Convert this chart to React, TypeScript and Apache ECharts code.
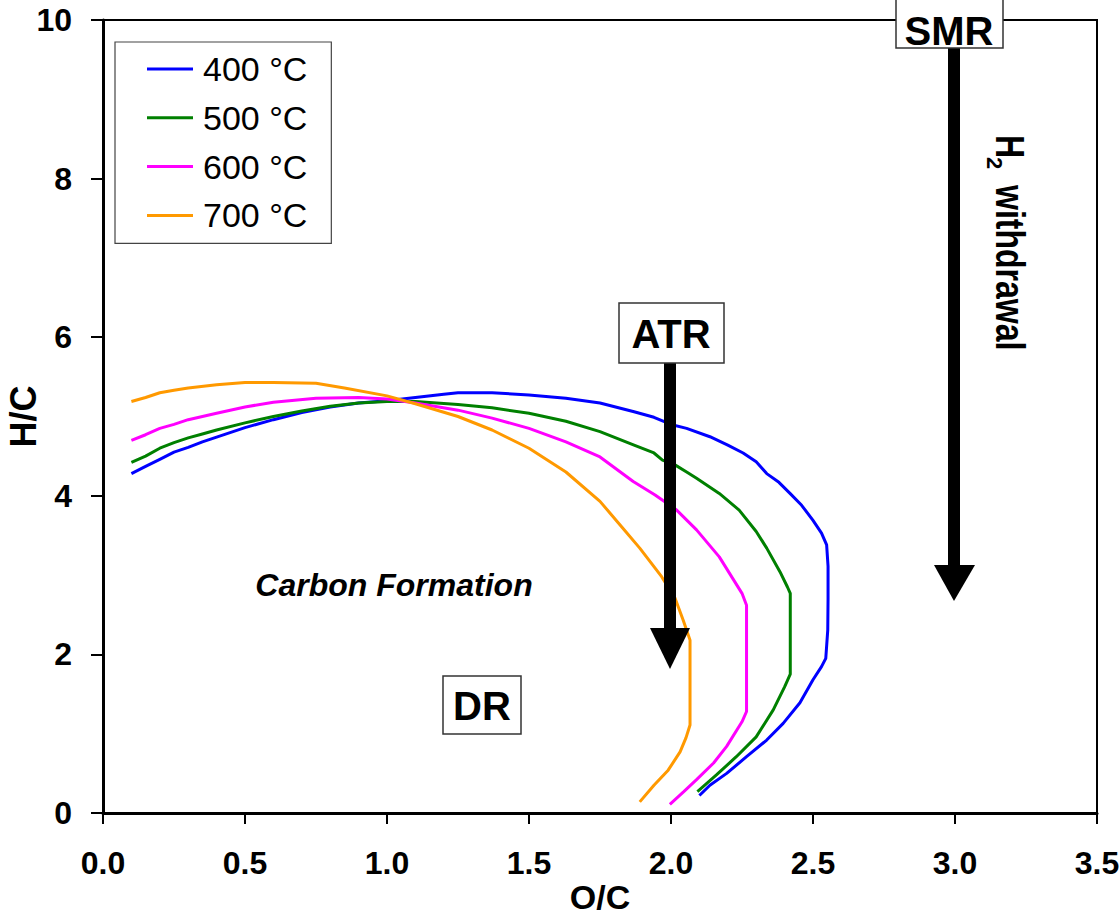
import React, { useEffect, useRef } from "react";
import * as echarts from "echarts";

const seriesNames = ["400 °C", "500 °C", "600 °C", "700 °C"];
const seriesColors = ["#0000FF", "#008000", "#FF00FF", "#FF9900"];

const data400: number[][] = [
  [0.1, 4.28], [0.15, 4.37], [0.2, 4.46], [0.25, 4.55], [0.3, 4.61], [0.35, 4.68], [0.4, 4.74],
  [0.5, 4.86], [0.6, 4.96], [0.7, 5.05], [0.8, 5.12], [0.9, 5.17], [1.0, 5.2], [1.1, 5.24],
  [1.2, 5.28], [1.25, 5.3], [1.37, 5.3], [1.5, 5.27], [1.63, 5.23], [1.75, 5.17], [1.87, 5.06],
  [1.94, 4.99], [2.0, 4.9], [2.055, 4.85], [2.137, 4.745], [2.2, 4.64], [2.254, 4.54], [2.3, 4.43],
  [2.337, 4.28], [2.38, 4.17], [2.419, 4.03], [2.46, 3.88], [2.5, 3.69], [2.53, 3.53], [2.548, 3.38],
  [2.553, 3.11], [2.553, 2.7], [2.552, 2.31], [2.545, 1.95], [2.53, 1.845], [2.5, 1.68], [2.454, 1.39],
  [2.395, 1.13], [2.337, 0.92], [2.266, 0.71], [2.196, 0.5], [2.137, 0.35], [2.1, 0.22],
];
const data500: number[][] = [
  [0.1, 4.42], [0.15, 4.5], [0.2, 4.6], [0.25, 4.67], [0.3, 4.73], [0.35, 4.78], [0.4, 4.83],
  [0.5, 4.92], [0.6, 5.0], [0.7, 5.07], [0.8, 5.13], [0.9, 5.17], [1.0, 5.19], [1.1, 5.19],
  [1.25, 5.15], [1.37, 5.11], [1.5, 5.04], [1.63, 4.94], [1.75, 4.81], [1.87, 4.64], [1.94, 4.54],
  [1.97, 4.45], [2.014, 4.39], [2.055, 4.3], [2.09, 4.22], [2.17, 4.03], [2.24, 3.82], [2.3, 3.55],
  [2.337, 3.34], [2.384, 3.04], [2.41, 2.85], [2.42, 2.77], [2.42, 2.2], [2.42, 1.75], [2.4, 1.59],
  [2.36, 1.3], [2.3, 0.96], [2.23, 0.71], [2.16, 0.48], [2.093, 0.27],
];
const data600: number[][] = [
  [0.1, 4.7], [0.15, 4.77], [0.2, 4.85], [0.25, 4.9], [0.3, 4.96], [0.4, 5.04], [0.5, 5.12],
  [0.6, 5.18], [0.75, 5.23], [0.9, 5.24], [1.0, 5.22], [1.1, 5.17], [1.25, 5.08], [1.37, 4.98],
  [1.5, 4.85], [1.63, 4.68], [1.75, 4.49], [1.867, 4.18], [1.944, 4.01], [2.02, 3.82], [2.09, 3.57],
  [2.17, 3.23], [2.25, 2.77], [2.266, 2.62], [2.266, 2.0], [2.266, 1.28], [2.25, 1.15], [2.196, 0.84],
  [2.15, 0.63], [2.09, 0.42], [2.045, 0.27], [1.996, 0.11],
];
const data700: number[][] = [
  [0.1, 5.19], [0.15, 5.24], [0.2, 5.3], [0.25, 5.33], [0.3, 5.36], [0.4, 5.4], [0.5, 5.43],
  [0.6, 5.43], [0.75, 5.42], [0.85, 5.36], [1.0, 5.26], [1.1, 5.16], [1.25, 5.0], [1.37, 4.83],
  [1.5, 4.6], [1.63, 4.3], [1.75, 3.93], [1.826, 3.61], [1.89, 3.34], [1.967, 2.98], [2.014, 2.71],
  [2.043, 2.43], [2.067, 2.18], [2.067, 1.6], [2.067, 1.11], [2.053, 0.95], [2.032, 0.77],
  [1.99, 0.54], [1.94, 0.35], [1.89, 0.14],
];
const allData = [data400, data500, data600, data700];

const FONT = "'Liberation Sans', Arial, Helvetica, sans-serif";

export default function App() {
  const ref = useRef<HTMLDivElement>(null);
  useEffect(() => {
    document.body.style.margin = "0";
    if (!ref.current) return;
    const chart = echarts.init(ref.current, undefined, { renderer: "svg" });
    const boxStroke = { stroke: "#333", lineWidth: 1.5, fill: "#fff" };
    chart.setOption({
      animation: false,
      backgroundColor: "#fff",
      textStyle: { fontFamily: FONT },
      grid: {
        left: 103, right: 23, top: 20, bottom: 106,
        containLabel: false,
        outerBoundsMode: "none",
        show: true, borderColor: "#000", borderWidth: 2, backgroundColor: "transparent",
      },
      legend: {
        orient: "vertical",
        left: 115, top: 42,
        padding: [10, 24, 11, 32],
        itemGap: 14.8,
        itemWidth: 46,
        itemHeight: 3,
        icon: "rect",
        borderColor: "#444",
        borderWidth: 1.2,
        backgroundColor: "#fff",
        textStyle: { fontSize: 34, lineHeight: 34, fontFamily: FONT, color: "#000", padding: [0, 0, 0, 5] },
        data: seriesNames,
      },
      xAxis: {
        type: "value", min: 0, max: 3.5, interval: 0.5,
        name: "O/C", nameLocation: "middle", nameGap: 67, nameMoveOverlap: false,
        nameTextStyle: { fontSize: 34, fontWeight: "bold", color: "#000", fontFamily: FONT },
        axisLine: { onZero: false, lineStyle: { color: "#000", width: 3 } },
        axisTick: { show: true, length: 11, lineStyle: { color: "#000", width: 2 } },
        axisLabel: {
          fontSize: 32, fontWeight: "bold", color: "#000", margin: 34, fontFamily: FONT,
          formatter: (v: number) => v.toFixed(1),
        },
        splitLine: { show: false },
      },
      yAxis: {
        type: "value", min: 0, max: 10, interval: 2,
        name: "H/C", nameLocation: "middle", nameGap: 62, nameMoveOverlap: false,
        nameTextStyle: { fontSize: 36, fontWeight: "bold", color: "#000", fontFamily: FONT },
        axisLine: { onZero: false, lineStyle: { color: "#000", width: 3 } },
        axisTick: { show: true, length: 12, lineStyle: { color: "#000", width: 2 } },
        axisLabel: { fontSize: 32, fontWeight: "bold", color: "#000", margin: 31, fontFamily: FONT },
        splitLine: { show: false },
      },
      series: allData.map((d, i) => ({
        name: seriesNames[i],
        type: "line",
        data: d,
        symbol: "none",
        smooth: false,
        lineStyle: { color: seriesColors[i], width: 3 },
        itemStyle: { color: seriesColors[i] },
        z: 3,
      })),
      graphic: [
        // ATR arrow
        { type: "rect", z: 10, shape: { x: 664, y: 362, width: 12, height: 268 }, style: { fill: "#000" } },
        { type: "polygon", z: 10, shape: { points: [[650, 628], [690, 628], [670, 669]] }, style: { fill: "#000" } },
        // SMR arrow
        { type: "rect", z: 10, shape: { x: 948, y: 47, width: 12, height: 520 }, style: { fill: "#000" } },
        { type: "polygon", z: 10, shape: { points: [[934, 565], [975, 565], [954, 601]] }, style: { fill: "#000" } },
        // boxes
        { type: "rect", z: 11, shape: { x: 619, y: 303, width: 105, height: 60 }, style: boxStroke },
        { type: "text", z: 12, x: 671, y: 334, style: { text: "ATR", font: `bold 40px ${FONT}`, fill: "#000", align: "center", verticalAlign: "middle" } },
        { type: "rect", z: 11, shape: { x: 896, y: -12, width: 107, height: 60 }, style: boxStroke },
        { type: "text", z: 12, x: 949, y: 31, style: { text: "SMR", font: `bold 40px ${FONT}`, fill: "#000", align: "center", verticalAlign: "middle" } },
        { type: "rect", z: 11, shape: { x: 443, y: 676, width: 78, height: 58 }, style: boxStroke },
        { type: "text", z: 12, x: 482, y: 706, style: { text: "DR", font: `bold 40px ${FONT}`, fill: "#000", align: "center", verticalAlign: "middle" } },
        // Carbon Formation
        { type: "text", z: 12, x: 394, y: 585, style: { text: "Carbon Formation", font: `italic bold 32px ${FONT}`, fill: "#000", align: "center", verticalAlign: "middle" } },
        // H2 withdrawal (rotated, reads top to bottom)
        {
          type: "group", z: 12, x: 1010, y: 135, rotation: -Math.PI / 2,
          children: [
            { type: "text", x: 0, y: 0, scaleY: 1.25, style: { text: "H", font: `bold 32px ${FONT}`, fill: "#000", align: "left", verticalAlign: "middle" } },
            { type: "text", x: 22, y: 16, style: { text: "2", font: `bold 22px ${FONT}`, fill: "#000", align: "left", verticalAlign: "middle" } },
            { type: "text", x: 50, y: 0, scaleY: 1.25, style: { text: "withdrawal", font: `bold 32px ${FONT}`, fill: "#000", align: "left", verticalAlign: "middle" } },
          ],
        },
      ],
    });
    return () => chart.dispose();
  }, []);
  return <div ref={ref} style={{ width: 1120, height: 919 }} />;
}
